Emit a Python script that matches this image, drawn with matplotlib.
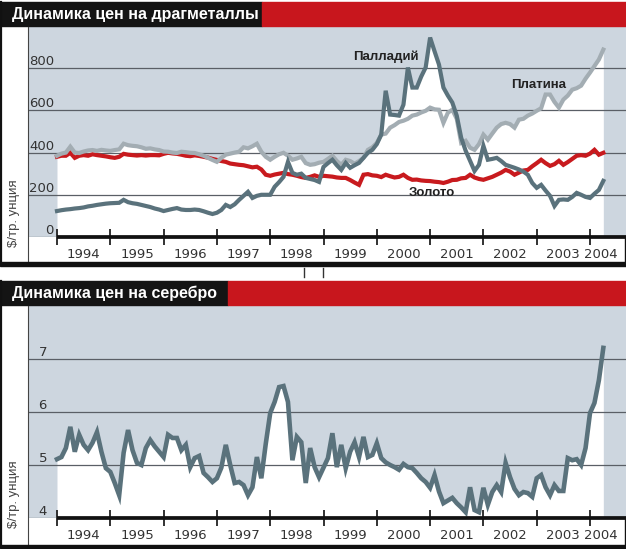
import matplotlib.pyplot as plt
import numpy as np
import pandas as pd
from matplotlib.lines import Line2D
from matplotlib.patches import Rectangle

# monthly data, Jan 1994 .. Apr 2004 ($ per troy ounce)
months = pd.date_range('1994-01-01', '2004-04-01', freq='MS')
years = list(range(1994, 2005))
year_labels = [str(y) for y in years]

platinum = [385, 395, 400, 428, 400, 398, 405, 410, 412, 408, 413, 410,
            408, 412, 415, 442, 435, 432, 430, 425, 418, 420, 415, 412,
            405, 404, 400, 398, 404, 402, 399, 398, 392, 385, 375, 365,
            356, 375, 390, 395, 400, 404, 425, 420, 430, 442, 404, 380,
            366, 380, 392, 399, 385, 366, 372, 380, 350, 342, 345, 352,
            356, 370, 385, 360, 342, 366, 360, 347, 360, 375, 413, 425,
            446, 485, 490, 518, 530, 545, 551, 560, 575, 580, 590, 598,
            613, 605, 603, 541, 589, 603, 560, 446, 456, 423, 413, 440,
            485, 461, 490, 518, 535, 541, 535, 518, 556, 560, 575, 585,
            598, 610, 675, 675, 640, 613, 651, 670, 698, 705, 717, 750,
            779, 810, 841, 888]

palladium = [123, 127, 130, 132, 135, 137, 140, 145, 148, 152, 155, 158,
             160, 161, 162, 176, 165, 160, 157, 152, 147, 142, 135, 130,
             123, 128, 133, 137, 130, 128, 128, 130, 128, 122, 115, 109,
             115, 128, 152, 142, 155, 176, 195, 214, 185, 195, 200, 200,
             200, 238, 260, 285, 356, 304, 295, 300, 280, 275, 270, 261,
             332, 350, 366, 340, 318, 351, 328, 340, 351, 375, 399, 413,
             440, 485, 693, 580, 578, 575, 627, 803, 708, 708, 760, 803,
             945, 880, 817, 708, 670, 637, 575, 470, 409, 361, 313, 342,
             432, 366, 370, 375, 360, 342, 335, 328, 320, 310, 295, 256,
             233, 247, 220, 195, 147, 176, 178, 176, 190, 209, 200, 190,
             185, 205, 223, 266]

gold = [380, 385, 385, 399, 375, 385, 388, 385, 392, 388, 385, 382,
        378, 375, 380, 394, 390, 388, 386, 388, 386, 388, 388, 387,
        394, 399, 396, 394, 390, 385, 383, 387, 384, 380, 376, 370,
        365, 360, 356, 348, 345, 342, 340, 335, 330, 333, 320, 295,
        290, 296, 300, 304, 298, 295, 290, 284, 280, 285, 292, 285,
        290, 288, 286, 282, 280, 280, 270, 258, 247, 295, 298, 292,
        290, 284, 295, 288, 282, 285, 295, 280, 271, 272, 268, 266,
        265, 262, 260, 256, 262, 270, 271, 278, 280, 295, 282, 275,
        271, 278, 285, 295, 305, 318, 310, 295, 305, 315, 318, 335,
        350, 366, 350, 337, 345, 361, 342, 355, 370, 385, 388, 385,
        395, 413, 390, 399]

silver = [5.11, 5.15, 5.32, 5.72, 5.25, 5.57, 5.38, 5.28, 5.42, 5.62, 5.25, 4.94,
          4.87, 4.66, 4.43, 5.23, 5.66, 5.28, 5.04, 5.00, 5.32, 5.47, 5.35, 5.25,
          5.15, 5.57, 5.51, 5.51, 5.28, 5.38, 4.96, 5.13, 5.17, 4.85, 4.77, 4.68,
          4.75, 4.95, 5.38, 5.00, 4.66, 4.68, 4.62, 4.43, 4.58, 5.15, 4.75, 5.40,
          5.98, 6.19, 6.47, 6.49, 6.19, 5.09, 5.53, 5.43, 4.66, 5.32, 4.96, 4.77,
          4.95, 5.13, 5.60, 4.96, 5.38, 4.94, 5.25, 5.43, 5.15, 5.53, 5.15, 5.19,
          5.41, 5.13, 5.05, 5.00, 4.96, 4.91, 5.02, 4.96, 4.94, 4.85, 4.75, 4.68,
          4.57, 4.81, 4.50, 4.28, 4.33, 4.38, 4.28, 4.20, 4.11, 4.58, 4.15, 4.11,
          4.57, 4.25, 4.49, 4.62, 4.49, 5.04, 4.77, 4.55, 4.43, 4.49, 4.47, 4.40,
          4.75, 4.81, 4.58, 4.43, 4.62, 4.51, 4.51, 5.13, 5.09, 5.11, 5.00, 5.32,
          5.98, 6.17, 6.60, 7.21]

top_ticks = [0, 200, 400, 600, 800]
bottom_ticks = [4, 5, 6, 7]

BG = '#cdd6df'
RED = '#c8161d'
DARK = '#5a727c'
LIGHT = '#a3adb3'
GOLD = '#c81a1e'
GRID = '#5a5f66'
NARROW = ['Liberation Sans Narrow', 'DejaVu Sans']

W, H = 626, 549
PX_YEAR = 53.3   # pixels per year
X0 = 57          # pixel of Jan 1994

def fx(x):
    return x / W

def fy(y):
    return 1 - y / H

t = np.array(months.year + (months.month - 1) / 12.0)

fig = plt.figure(figsize=(6.26, 5.49), dpi=100)
fig.patch.set_facecolor('white')


def panel(top, axis_y, bottom, title, title_w, ylim, ticks, tick_x):
    # title bar
    fig.patches.append(Rectangle((0, fy(top + 24)), fx(title_w), 24 / H,
                                 transform=fig.transFigure, color='#141414', zorder=0))
    fig.patches.append(Rectangle((fx(title_w), fy(top + 24)), 1 - fx(title_w), 24 / H,
                                 transform=fig.transFigure, color=RED, zorder=0))
    fig.text(fx(12), fy(top + 12), title, color='white', fontsize=11.5,
             fontweight='bold', family=['Liberation Sans', 'DejaVu Sans'],
             va='center', ha='left')
    ax_top = top + 25
    ax = fig.add_axes([fx(28), fy(axis_y), 1 - fx(28), (axis_y - ax_top) / H])
    ax.set_facecolor(BG)
    ax.set_xlim(1994 + (28 - X0) / PX_YEAR, 1994 + (W - X0) / PX_YEAR)
    ax.set_ylim(*ylim)
    for s in ax.spines.values():
        s.set_visible(False)
    ax.set_yticks([])
    for v in ticks:
        ax.axhline(v, color=GRID, lw=0.9, zorder=2)
        if v != ticks[0] or True:
            ax.text(tick_x, v, str(v), ha='right', va='bottom', fontsize=9.5,
                    color='#333333', family=NARROW, zorder=2)
    # x axis: year boundaries and labels
    ax.set_xticks(years)
    ax.set_xticklabels([])
    ax.tick_params(axis='x', which='major', direction='inout', length=11,
                   width=1.3, color='#222222')
    mids = [y + 0.5 for y in years[:-1]] + [years[-1] + 0.2]
    ax.set_xticks(mids, minor=True)
    ax.set_xticklabels(year_labels, minor=True, fontsize=9.5, color='#333333',
                       family=NARROW)
    ax.tick_params(axis='x', which='minor', length=0, pad=8)
    ax.plot([1994, ax.get_xlim()[1]], [ylim[0], ylim[0]], color='#111111',
            lw=2.7, clip_on=False, zorder=6, solid_capstyle='butt')
    # frame lines
    fig.add_artist(Line2D([fx(28), fx(28)], [fy(ax_top), fy(bottom)],
                          color='#444444', lw=0.8))
    fig.add_artist(Line2D([fx(1), fx(1)], [fy(top), fy(bottom)],
                          color='#111111', lw=1.6))
    fig.add_artist(Line2D([fx(625), fx(625)], [fy(axis_y), fy(bottom)],
                          color='#111111', lw=1.0))
    fig.patches.append(Rectangle((0, fy(bottom + 3)), 1, 3.5 / H,
                                 transform=fig.transFigure, color='#111111', zorder=5))
    fig.text(fx(14), fy(axis_y - 24), '$/тр. унция', rotation=90, fontsize=9.5,
             color='#444444', family=['Liberation Sans', 'DejaVu Sans'],
             ha='center', va='center')
    return ax


# top panel: precious metals
ax1 = panel(2, 237, 263, 'Динамика цен на драгметаллы', 262, (0, 995), top_ticks,
            1994 + (54 - X0) / PX_YEAR)
upper = np.maximum.reduce([np.array(platinum), np.array(palladium), np.array(gold)])
ax1.fill_between(t, 0, upper, color='white', zorder=1, lw=0)
ax1.plot(t, gold, color=GOLD, lw=3.0, zorder=3, solid_joinstyle='miter')
ax1.plot(t, platinum, color=LIGHT, lw=3.0, zorder=4, solid_joinstyle='miter')
ax1.plot(t, palladium, color=DARK, lw=3.0, zorder=5, solid_joinstyle='miter')
lab = dict(fontsize=9.5, fontweight='bold', color='#222222',
           family=['Liberation Sans', 'DejaVu Sans'], ha='center', va='center', zorder=7)
ax1.text(2000.17, 855, 'Палладий', **lab)
ax1.text(2003.04, 722, 'Платина', **lab)
ax1.text(2001.04, 209, 'Золото', **lab)

# small marks between panels
for xm in (304, 323):
    fig.add_artist(Line2D([fx(xm), fx(xm)], [fy(268), fy(277)], color='#333333', lw=1.0))

# bottom panel: silver
ax2 = panel(281, 518, 545, 'Динамика цен на серебро', 228, (4, 8.0), bottom_ticks,
            1994 + (47 - X0) / PX_YEAR)
ax2.fill_between(t, 4, silver, color='white', zorder=1, lw=0)
ax2.plot(t, silver, color=DARK, lw=3.3, zorder=4, solid_joinstyle='miter')

fig.savefig('out.png', dpi=100)
